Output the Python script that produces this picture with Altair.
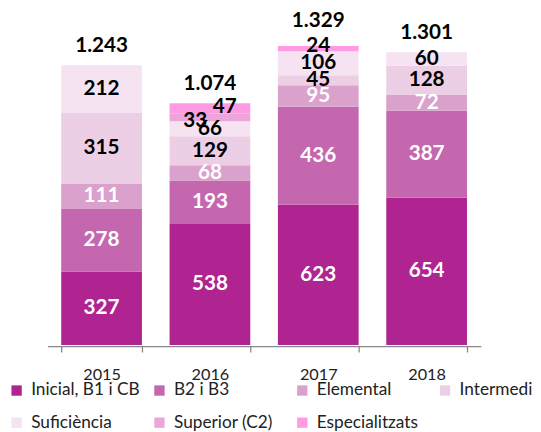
import altair as alt
import pandas as pd

years = ["2015", "2016", "2017", "2018"]
categories = ["Inicial, B1 i CB", "B2 i B3", "Elemental", "Intermedi",
              "Suficiència", "Superior (C2)", "Especialitzats"]
colors = ["#AF2490", "#C467AF", "#DAA1CC", "#EDCFE5", "#F5E3F1", "#EBA5DA", "#FF9BE3"]
values = {
    "2015": [327, 278, 111, 315, 212, 0, 0],
    "2016": [538, 193, 68, 129, 66, 33, 47],
    "2017": [623, 436, 95, 45, 106, 0, 24],
    "2018": [654, 387, 72, 128, 60, 0, 0],
}

rows = []
for y in years:
    for i, c in enumerate(categories):
        rows.append({"year": y, "cat": c, "idx": i, "value": values[y][i]})
df = pd.DataFrame(rows)

FONT = "Lato"
LBL = 21

xenc = alt.X("year:N", sort=years,
             scale=alt.Scale(paddingInner=0.255, paddingOuter=0.1275),
             axis=alt.Axis(title=None, labelAngle=0, labelFontSize=16.5, labelFont=FONT,
                           labelColor="#222", labelPadding=15, tickBand="extent",
                           domainColor="#888", tickColor="#888", tickSize=6,
                           domainWidth=1.3, tickWidth=1.3, offset=1))
yscale = alt.Scale(domain=[0, 1400])

base = alt.Chart(df)

bars = base.mark_bar().encode(
    x=xenc,
    y=alt.Y("value:Q", stack="zero", scale=yscale, axis=None),
    color=alt.Color("cat:N", sort=categories,
                    scale=alt.Scale(domain=categories, range=colors),
                    legend=alt.Legend(title=None, orient="none", legendX=-40, legendY=357,
                                      direction="horizontal", columns=4, gridAlign="all",
                                      columnPadding=11, rowPadding=14,
                                      symbolType="square", symbolSize=110,
                                      symbolStrokeWidth=0, labelFontSize=17.5,
                                      labelFont=FONT, labelColor="#222",
                                      labelOffset=6, labelLimit=300)),
    order=alt.Order("idx:Q"),
)

stacked = base.transform_stack(
    stack="value", groupby=["year"], sort=[alt.SortField("idx")], as_=["y0", "y1"]
).transform_calculate(
    mid="(datum.y0 + datum.y1) / 2",
    txtcol="datum.idx < 3 ? 'white' : 'black'",
).transform_filter("datum.value > 0")

def seg_labels(filt, dx=0, dy=0):
    return stacked.transform_filter(filt).mark_text(
        font=FONT, fontSize=LBL, fontWeight="bold", baseline="middle", dx=dx, dy=dy
    ).encode(
        x=alt.X("year:N", sort=years),
        y=alt.Y("mid:Q", scale=yscale),
        text=alt.Text("value:Q"),
        color=alt.Color("txtcol:N", scale=None),
    )

normal = seg_labels("!(datum.year == '2016' && datum.idx >= 5) && !(datum.year == '2017' && datum.idx == 6)")
sup16 = seg_labels("datum.year == '2016' && datum.idx == 5", dx=-15, dy=4)
esp16 = seg_labels("datum.year == '2016' && datum.idx == 6", dx=15, dy=-2)
esp17 = seg_labels("datum.year == '2017' && datum.idx == 6", dy=-3)

tot = base.transform_aggregate(total="sum(value)", groupby=["year"]).transform_calculate(
    lab="replace(format(datum.total, ','), ',', '.')"
)

def total_labels(filt, dy):
    return tot.transform_filter(filt).mark_text(
        font=FONT, fontSize=LBL, fontWeight="bold", baseline="middle", dy=dy, color="black"
    ).encode(
        x=alt.X("year:N", sort=years),
        y=alt.Y("total:Q", scale=yscale),
        text="lab:N",
    )

totals = total_labels("datum.year != '2017'", -19)
total17 = total_labels("datum.year == '2017'", -25)

chart = alt.layer(bars, normal, sup16, esp16, esp17, totals, total17).properties(
    width=440, height=320,
    autosize=alt.AutoSizeParams(type="none"),
    padding={"left": 40, "top": 19, "right": 53, "bottom": 85},
).configure_view(stroke=None)

chart.save("out.html", embed_options={"renderer": "svg", "actions": False})
